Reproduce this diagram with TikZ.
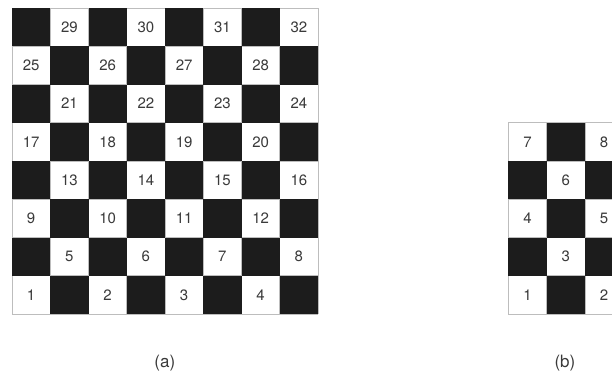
\documentclass[tikz,border=0pt]{standalone}
\usepackage{fontspec}
\setmainfont{TeX Gyre Heros}
\definecolor{casilla}{HTML}{1C1C1C}
\definecolor{linea}{HTML}{BDBDBD}
\definecolor{cifra}{HTML}{3A3A3A}
\begin{document}
\begin{tikzpicture}[x=38.25pt, y=38.25pt, font=\fontsize{15}{17}\selectfont]
\useasboundingbox (0, 0) rectangle (16, 9.935);
\tikzset{num/.style={text=cifra, inner sep=0pt},
         etiq/.style={text=cifra, font=\fontsize{17}{19}\selectfont},
         rejilla/.style={linea, line width=0.6pt}}

% ── Tablero (a): 8 x 8 ───────────────────────────────────────
\begin{scope}[shift={(0.3137, 1.7255)}]
  \fill[white] (0, 0) rectangle (8, 8);
  \foreach \i in {0,...,8} {
    \draw[rejilla] (\i, 0) -- (\i, 8);
    \draw[rejilla] (0, \i) -- (8, \i);
  }
  \foreach \r in {0,...,7}
    \foreach \c in {0,...,7} {
      \pgfmathtruncatemacro{\s}{mod(\r+\c,2)}
      \pgfmathtruncatemacro{\n}{4*\r+floor(\c/2)+1}
      \ifnum\s=1
        \fill[casilla] (\c, \r) rectangle ++(1, 1);
      \else
        \node[num] (a-\n) at (\c+0.5, \r+0.5) {\n};
      \fi
    }
\end{scope}

% ── Tablero (b): 5 filas x 3 columnas ────────────────────────
\begin{scope}[shift={(13.29, 1.7255)}]
  \fill[white] (0, 0) rectangle (3, 5);
  \foreach \i in {0,...,3} \draw[rejilla] (\i, 0) -- (\i, 5);
  \foreach \i in {0,...,5} \draw[rejilla] (0, \i) -- (3, \i);
  \foreach \r in {0,...,4}
    \foreach \c in {0,...,2} {
      \pgfmathtruncatemacro{\s}{mod(\r+\c,2)}
      \pgfmathtruncatemacro{\n}{3*floor(\r/2)+2*mod(\r,2)+floor(\c/2)+1}
      \ifnum\s=1
        \fill[casilla] (\c, \r) rectangle ++(1, 1);
      \else
        \node[num] (b-\n) at (\c+0.5, \r+0.5) {\n};
      \fi
    }
\end{scope}

% ── Rótulos ──────────────────────────────────────────────────
\node[etiq] (rotulo-a) at (4.31, 0.44) {(a)};
\node[etiq] (rotulo-b) at (14.77, 0.44) {(b)};

\end{tikzpicture}
\end{document}
